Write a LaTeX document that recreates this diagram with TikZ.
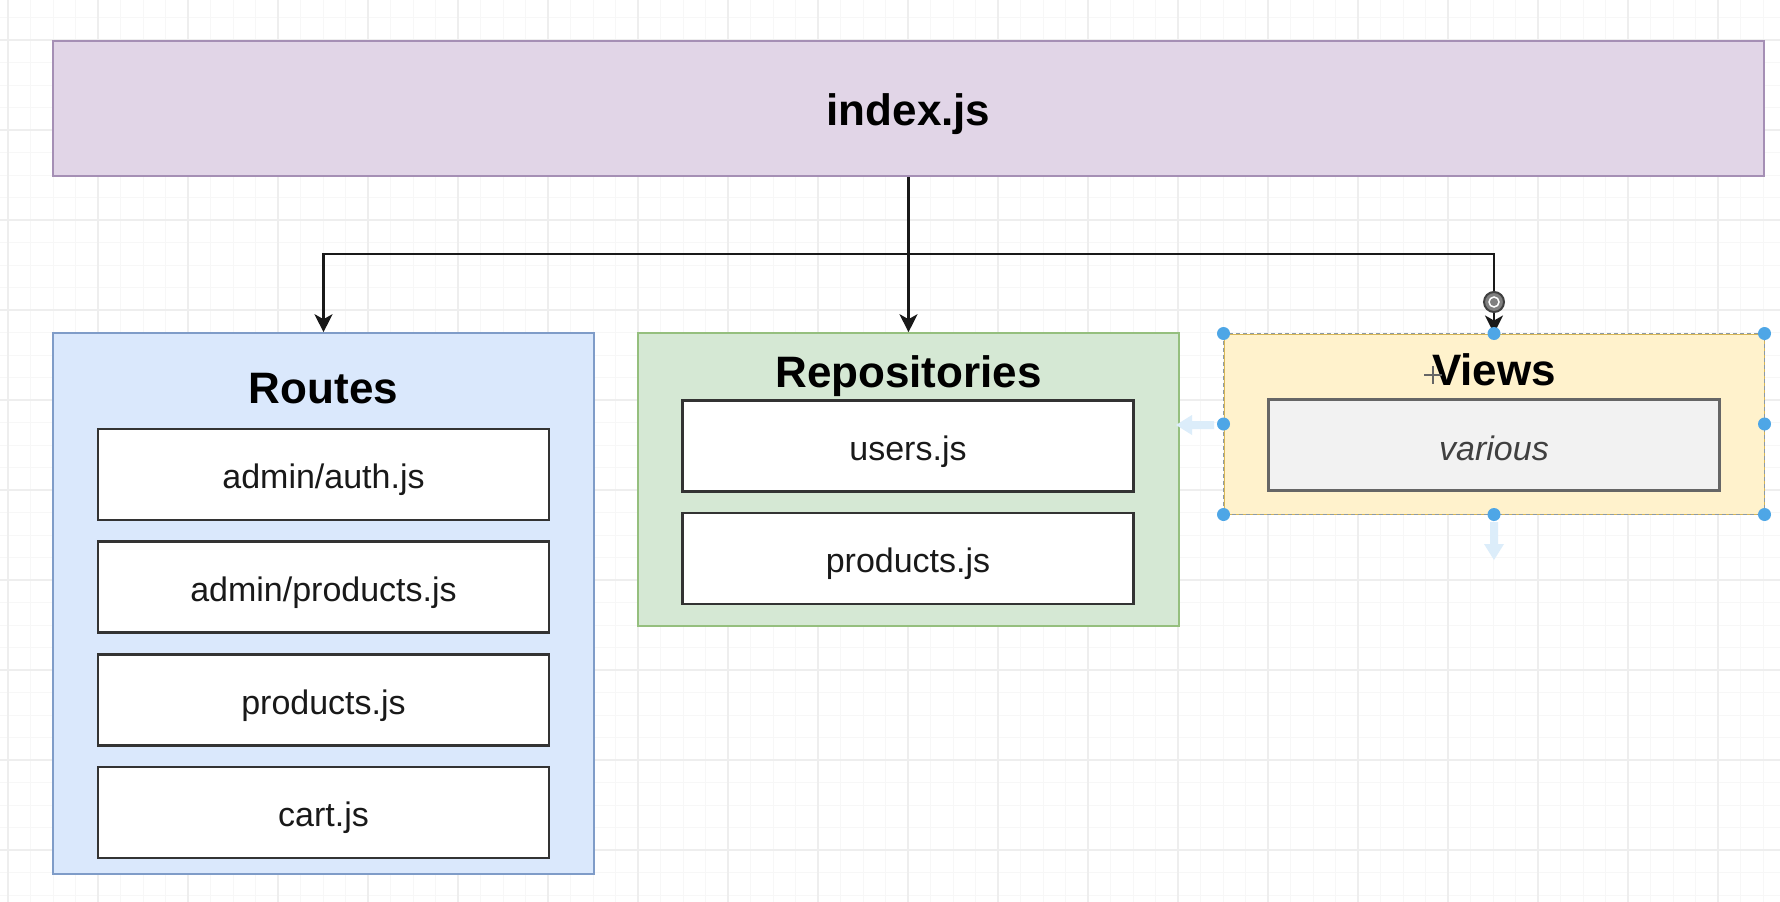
\documentclass[tikz,border=0pt]{standalone}
\usepackage{fontspec}
\setmainfont{Liberation Sans}
\usetikzlibrary{arrows.meta,calc}

\definecolor{gridminor}{HTML}{F7F7F7}
\definecolor{gridmajor}{HTML}{EEEEEE}
\definecolor{purplefill}{HTML}{E1D5E7}
\definecolor{purpleline}{HTML}{A58FB5}
\definecolor{bluefill}{HTML}{DAE8FC}
\definecolor{blueline}{HTML}{7F9CC8}
\definecolor{greenfill}{HTML}{D5E8D4}
\definecolor{greenline}{HTML}{95BF7E}
\definecolor{yellowfill}{HTML}{FFF2CC}
\definecolor{yellowline}{HTML}{D6B656}
\definecolor{grayfill}{HTML}{F2F2F2}
\definecolor{grayline}{HTML}{666666}
\definecolor{fileline}{HTML}{333333}
\definecolor{handle}{HTML}{4EA6E6}
\definecolor{hint}{HTML}{DCEDFA}
\definecolor{selline}{HTML}{8C9AA6}

\tikzset{
  group/.style={draw, line width=1.6pt, inner sep=0pt},
  filebox/.style={draw=fileline, fill=white, line width=2.4pt, inner sep=0pt,
    minimum width=451pt, minimum height=91pt,
    font=\fontsize{34}{40}\selectfont, text=black!90,
    text height=24.4pt, text depth=0pt},
  grouptitle/.style={inner sep=0pt, font=\bfseries\fontsize{44}{50}\selectfont,
    text height=31.5pt, text depth=0pt},
  conn/.style={draw=black!90, line width=2.2pt,
    -{Stealth[length=18pt, width=18pt, inset=5pt]}},
  handledot/.style={circle, fill=handle, inner sep=0pt, minimum size=13pt},
}

\begin{document}
\begin{tikzpicture}[x=1pt, y=-1pt]
\useasboundingbox (0,0) rectangle (1780,902);
\fill[white] (0,0) rectangle (1780,902);

% background grid
\foreach \k in {0,...,79} {
  \draw[gridminor, line width=1pt] ({8+22.5*\k},0) -- ({8+22.5*\k},902);
}
\foreach \k in {0,...,39} {
  \draw[gridminor, line width=1pt] (0,{17.5+22.5*\k}) -- (1780,{17.5+22.5*\k});
}
\foreach \k in {0,...,19} {
  \draw[gridmajor, line width=1.2pt] ({8+90*\k},0) -- ({8+90*\k},902);
}
\foreach \k in {0,...,9} {
  \draw[gridmajor, line width=1.2pt] (0,{40+90*\k}) -- (1780,{40+90*\k});
}

% entry point
\node[group, draw=purpleline, fill=purplefill, minimum width=1711pt, minimum height=135pt]
  (index) at (908.5,108.5) {};
\node[grouptitle] (indextitle) at (908.5,110) {index.js};

% Routes group
\node[group, draw=blueline, fill=bluefill, minimum width=541pt, minimum height=541pt]
  (routes) at (323.5,603.5) {};
\node[grouptitle] (routestitle) at (323.5,388) {Routes};
\node[filebox] (r1) at (323.5,474.5) {};
\node[filebox] (r2) at (323.5,587) {};
\node[filebox] (r3) at (323.5,700) {};
\node[filebox] (r4) at (323.5,812.5) {};
\node[filebox, draw=none, fill=none] at ($(r1)+(0,2)$) {admin/auth.js};
\node[filebox, draw=none, fill=none] at ($(r2)+(0,2)$) {admin/products.js};
\node[filebox, draw=none, fill=none] at ($(r3)+(0,2)$) {products.js};
\node[filebox, draw=none, fill=none] at ($(r4)+(0,2)$) {cart.js};

% Repositories group
\node[group, draw=greenline, fill=greenfill, minimum width=541pt, minimum height=293pt]
  (repos) at (908.5,479.5) {};
\node[grouptitle] (repostitle) at (908.5,372) {Repositories};
\node[filebox] (p1) at (908,446) {};
\node[filebox] (p2) at (908,558.5) {};
\node[filebox, draw=none, fill=none] at ($(p1)+(0,2)$) {users.js};
\node[filebox, draw=none, fill=none] at ($(p2)+(0,2)$) {products.js};

% Views group (currently selected)
\node[group, draw=yellowline, line width=1pt, fill=yellowfill, minimum width=540pt, minimum height=180pt]
  (views) at (1494,424) {};
\draw[selline, line width=1.4pt, dash pattern=on 4pt off 3pt]
  (views.north west) rectangle (views.south east);
\node[grouptitle] (viewstitle) at (1494,370) {Views};
\node[filebox, draw=grayline, fill=grayfill] (v1) at (1494,445) {};
\node[filebox, draw=none, fill=none, text=black!75,
  font=\itshape\fontsize{34}{40}\selectfont, text height=17.6pt]
  (v1text) at (1494,452) {various};

% drag hints around the selection
\fill[hint] (1176,425) -- (1192,415) -- (1192,421) -- (1214,421) -- (1214,429) -- (1192,429) -- (1192,435) -- cycle;
\fill[hint] (1494,560) -- (1484,544) -- (1490,544) -- (1490,522) -- (1498,522) -- (1498,544) -- (1504,544) -- cycle;

% connectors
\coordinate (elbow) at (908.5,254);
\draw[conn] (index.south) -- (repos.north);
\draw[conn] (elbow) -| (routes.north);
\draw[conn] (elbow) -| (views.north);

% connection marker on the Views edge
\node[circle, draw=black!75, fill=black!50, line width=2pt, inner sep=0pt, minimum size=20pt]
  (marker) at (1494,302) {};
\node[circle, draw=white, line width=1.5pt, inner sep=0pt, minimum size=10pt] (markerring) at (marker) {};

% selection handles
\foreach \a in {north west, north, north east, west, east, south west, south, south east} {
  \node[handledot] at (views.\a) {};
}

% move cursor
\coordinate (cursor) at (1433,375);
\draw[black!60, line width=2pt] ($(cursor)+(-9,0)$) -- ($(cursor)+(9,0)$);
\draw[black!60, line width=2pt] ($(cursor)+(0,-9)$) -- ($(cursor)+(0,9)$);
\end{tikzpicture}
\end{document}
